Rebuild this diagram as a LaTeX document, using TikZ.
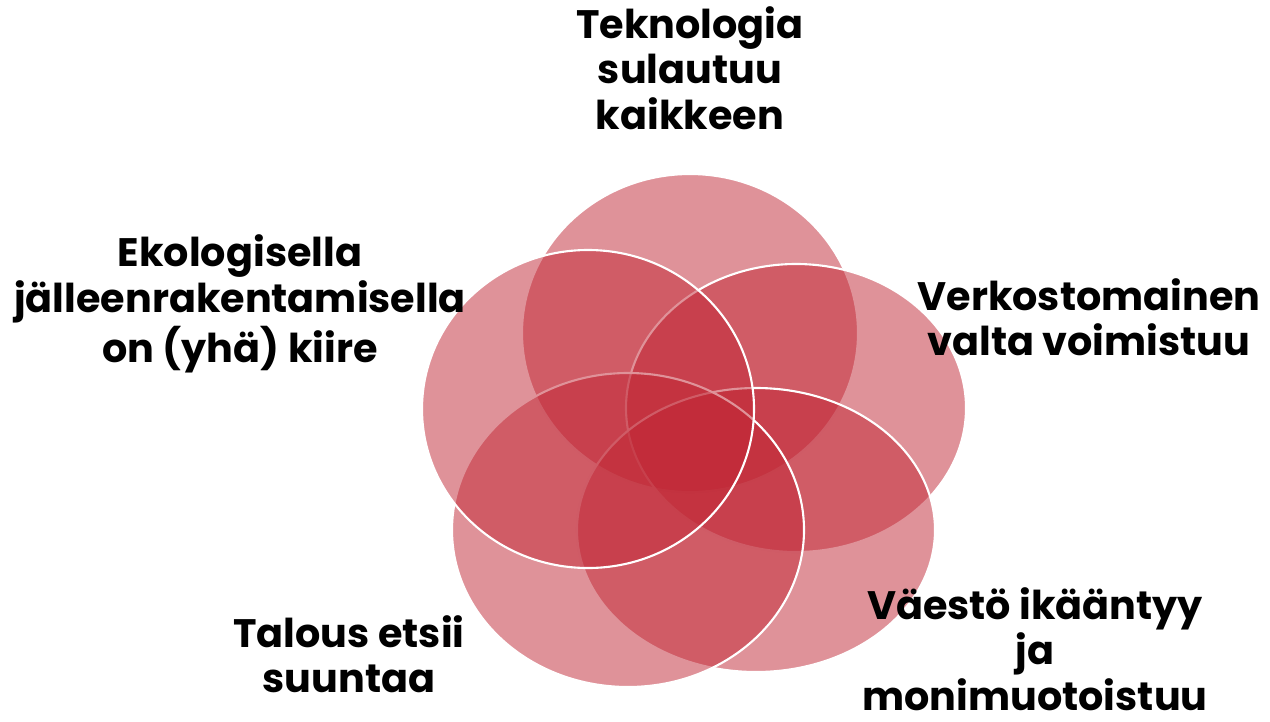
\documentclass[tikz,border=0pt]{standalone}
\usepackage{fontspec}
\setmainfont{Poppins}
\definecolor{petalred}{RGB}{192,38,52}

\begin{document}
\begin{tikzpicture}[x=0.01cm,y=-0.01cm,
  petal/.style={fill=petalred,fill opacity=0.5,draw=white,line width=0.6pt},
  trendtext/.style={align=center,inner sep=0pt,font=\bfseries\fontsize{11.3}{12.9}\selectfont}]
\useasboundingbox (0,0) rectangle (1270,721);
% petals, drawn clockwise from the top
\foreach \cx/\cy/\rx/\ry in {690/333/168/159, 796/408/170/144, 756/530/179/142, 628/530/176/157, 588/409/166/159}
\draw[petal] (\cx,\cy) ellipse [x radius=\rx, y radius=\ry];
\node[trendtext] (tekno) at (690,68) {Teknologia\\sulautuu\\kaikkeen};
\node[trendtext] (verkosto) at (1089,317) {Verkostomainen\\valta voimistuu};
\node[trendtext] (vaesto) at (1035,649) {Väestö ikääntyy\\ja\\monimuotoistuu};
\node[trendtext] (talous) at (349,654) {Talous etsii\\suuntaa};
\node[trendtext] (ekolog) at (240,304) {Ekologisella\\jälleenrakentamisella\\on (yhä) kiire};
\end{tikzpicture}
\end{document}
